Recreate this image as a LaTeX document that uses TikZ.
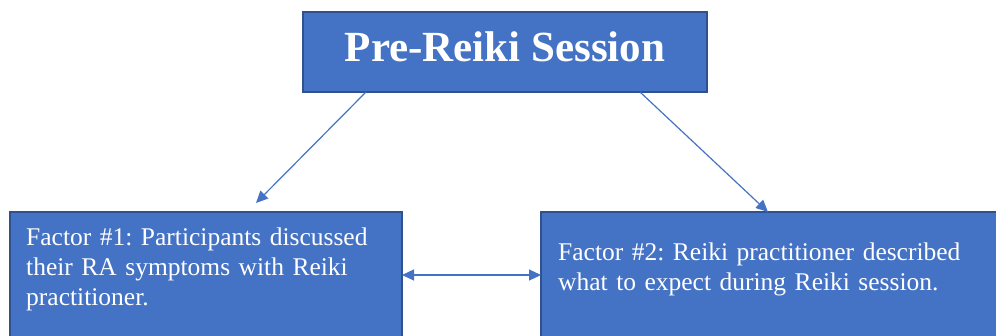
\documentclass[tikz,border=0pt]{standalone}
\usepackage{fontspec}
\setmainfont{Liberation Serif}
\usetikzlibrary{arrows.meta}
\definecolor{boxblue}{HTML}{4472C4}
\definecolor{boxedge}{HTML}{2F528F}
\begin{document}
\frenchspacing
\begin{tikzpicture}[x=1pt,y=-1pt,
  box/.style={draw=boxedge, line width=2pt, fill=boxblue, inner sep=0pt, outer sep=0pt},
  boxtext/.style={text=white, inner sep=0pt, align=left, anchor=base west,
    font=\fontsize{25.5}{30}\selectfont},
  link/.style={draw=boxblue, line width=1.2pt, -{Triangle[length=12pt,width=11pt]}},
  dlink/.style={draw=boxblue, line width=1.2pt, {Triangle[length=12pt,width=11pt]}-{Triangle[length=12pt,width=11pt]}},
]
\useasboundingbox (0,0) rectangle (996,335);
\clip (0,0) rectangle (996,335);
\node[box, minimum width=404pt, minimum height=80pt] (pre) at (505,52) {};
\node[text=white, inner sep=0pt, anchor=base, font=\fontsize{43}{50}\selectfont\bfseries] (pretext) at (505,61) {Pre-Reiki Session};
\node[box, minimum width=392pt, minimum height=138pt] (f1) at (206,281) {};
\node[box, minimum width=459pt, minimum height=138pt] (f2) at (770.5,281) {};
\node[boxtext, text width=380pt] (t1) at (26,245) {Factor \#1: Participants discussed\\their RA symptoms with Reiki\\practitioner.};
\node[boxtext, text width=430pt] (t2) at (558,260) {Factor \#2: Reiki practitioner described\\what to expect during Reiki session.};
\draw[link] ([xshift=-139pt]pre.south) -- ([xshift=50pt,yshift=9pt]f1.north);
\draw[link] ([xshift=135pt]pre.south) -- ([xshift=-2.5pt]f2.north);
\draw[dlink] ([yshift=6pt]f1.east) -- ([yshift=6pt]f2.west);
\end{tikzpicture}
\end{document}
